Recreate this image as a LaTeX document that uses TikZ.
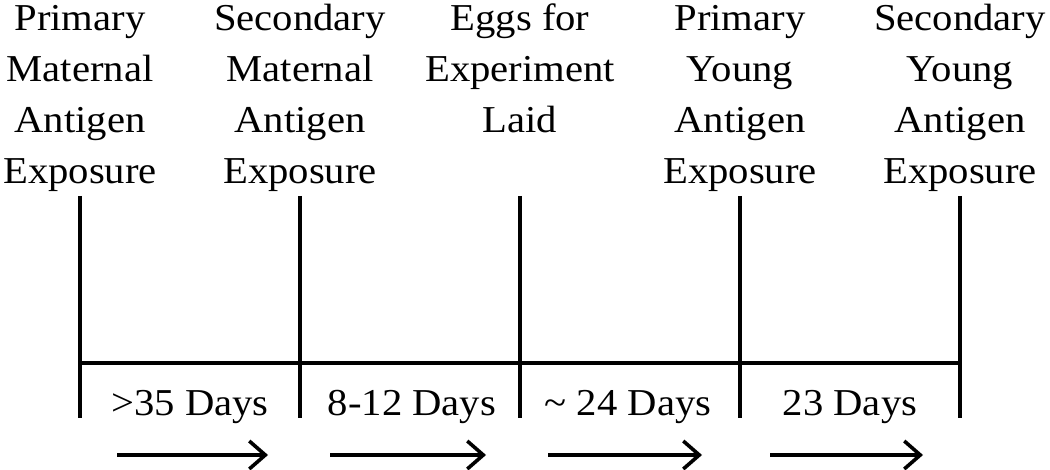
\documentclass[tikz,border=0pt]{standalone}
\usepackage{fontspec}
\setmainfont[FakeStretch=1.07]{Liberation Serif}
\usetikzlibrary{arrows.meta}
\begin{document}
\begin{tikzpicture}[x=1pt,y=-1pt,
  lbl/.style={align=center, anchor=base, inner sep=0pt, font=\fontsize{38}{51}\selectfont},
  days/.style={anchor=base, inner sep=0pt, font=\fontsize{38}{51}\selectfont},
  tick/.style={line width=3.6pt},
  arr/.style={line width=3.6pt, -{Straight Barb[length=16pt,width=28pt]}}]
\useasboundingbox (0,0) rectangle (1050,470);
% labels on top (base anchor = baseline of last line)
\node[lbl] (l1) at (80,184) {Primary\\Maternal\\Antigen\\Exposure};
\node[lbl] (l2) at (300,184) {Secondary\\Maternal\\Antigen\\Exposure};
\node[lbl] (l3) at (520,133) {Eggs for\\Experiment\\Laid};
\node[lbl] (l4) at (740,184) {Primary\\Young\\Antigen\\Exposure};
\node[lbl] (l5) at (960,184) {Secondary\\Young\\Antigen\\Exposure};
% ticks
\foreach \i/\x in {1/80,2/300,3/520,4/740,5/960}{
  \coordinate (t\i) at (\x,196);
  \coordinate (h\i) at (\x,363);
  \coordinate (b\i) at (\x,418);
  \draw[tick] (t\i) -- (b\i);
}
\draw[tick] (h1) -- (h5);
% durations
\node[days] (d1) at (190,415) {>35 Days};
\node[days] (d2) at (412,415) {8-12 Days};
\node[days] (d3) at (628,415) {\textasciitilde{} 24 Days};
\node[days] (d4) at (850,415) {23 Days};
% arrows
\foreach \i/\s/\e in {1/117/268,2/330/486,3/548/702,4/770/923}{
  \coordinate (as\i) at (\s,455);
  \coordinate (ae\i) at (\e,455);
  \draw[arr] (as\i) -- (ae\i);
}
\end{tikzpicture}
\end{document}
